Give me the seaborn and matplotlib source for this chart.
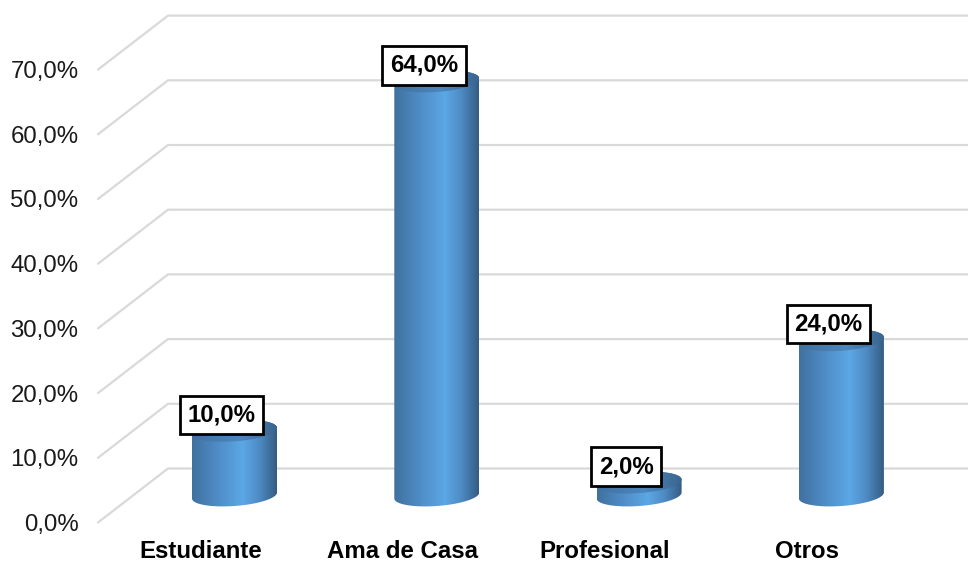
import numpy as np
import pandas as pd
import seaborn as sns
import matplotlib
matplotlib.use("Agg")
import matplotlib.pyplot as plt
from matplotlib.colors import LinearSegmentedColormap
from matplotlib.patches import Polygon

categories = ["Estudiante", "Ama de Casa", "Profesional", "Otros"]
values = [10.0, 64.0, 2.0, 24.0]
value_labels = ["10,0%", "64,0%", "2,0%", "24,0%"]
y_ticks = [0, 10, 20, 30, 40, 50, 60, 70]
y_tick_labels = ["0,0%", "10,0%", "20,0%", "30,0%", "40,0%", "50,0%", "60,0%", "70,0%"]

sns.set_theme(style="white")
plt.rcParams["font.family"] = ["Liberation Sans", "DejaVu Sans"]

# layout in pixels of the 968x561 image
W, H = 968, 561
left, bottom_px = 98, 530
first_bar_x, bar_step = 234.5, 202.3
base_y, px_per_unit = 495.5, 6.47
bar_px = 85
ell_b, ell_tilt = 10.5, 3.0
depth_x, depth_y = 70, 27  # wall and front plane, seen from the bars

df = pd.DataFrame({"category": categories, "value": values})

fig = plt.figure(figsize=(W / 100, H / 100), dpi=100)
ax = fig.add_axes([left / W, (H - bottom_px) / H, (W - left) / W, bottom_px / H])

sns.barplot(data=df, x="category", y="value", width=bar_px / bar_step,
            color="#4f8fcb", saturation=1, ax=ax, zorder=3)

ax.set_xlim((left - first_bar_x) / bar_step, (W - first_bar_x) / bar_step)
ylim = ((base_y - bottom_px) / px_per_unit, base_y / px_per_unit)
ax.set_ylim(ylim)
sns.despine(ax=ax, left=True, bottom=True)

# 3D floor and wall lines
dy = depth_y / px_per_unit
x_front = (left - first_bar_x) / bar_step
x_back = (left + depth_x - first_bar_x) / bar_step
x_end = (W - first_bar_x) / bar_step
for t in y_ticks:
    ax.plot([x_front, x_back, x_end], [t - dy, t + dy, t + dy], color="#d9d9d9",
            lw=1.6, zorder=1, clip_on=False)

body_cmap = LinearSegmentedColormap.from_list(
    "body", [(0, "#40719f"), (0.3, "#4f8cc6"), (0.6, "#5ca7e6"), (0.8, "#4d8ac3"), (1, "#355c82")])
top_cmap = LinearSegmentedColormap.from_list(
    "top", [(0, "#3f719f"), (0.55, "#4d86bd"), (1, "#3a668f")])
gradient = np.linspace(0, 1, 256).reshape(1, -1)


def ellipse_points(cx, cy, t):
    a = bar_px / 2 / bar_step
    b = ell_b / px_per_unit
    tilt = ell_tilt / px_per_unit
    return np.column_stack([cx + a * np.cos(t), cy + b * np.sin(t) + tilt * np.cos(t)])


# turn each seaborn bar into a shaded cylinder
for bar, label in zip(ax.patches, value_labels):
    cx = bar.get_x() + bar.get_width() / 2
    top = bar.get_height()
    lower = ellipse_points(cx, 0, np.linspace(np.pi, 2 * np.pi, 80))
    upper = ellipse_points(cx, top, np.linspace(0, np.pi, 80))
    body = Polygon(np.vstack([lower, upper]), closed=True, fc="none", ec="none")
    ax.add_patch(body)
    extent = [cx - bar.get_width() / 2, cx + bar.get_width() / 2, -3, top + 3]
    im = ax.imshow(gradient, cmap=body_cmap, extent=extent, aspect="auto", zorder=4)
    im.set_clip_path(body)

    cap = Polygon(ellipse_points(cx, top, np.linspace(0, 2 * np.pi, 160)),
                  closed=True, fc="none", ec="none")
    ax.add_patch(cap)
    im = ax.imshow(gradient, cmap=top_cmap, extent=extent, aspect="auto", zorder=5)
    im.set_clip_path(cap)

    ax.annotate(label, (cx, top), xytext=(-13 * 0.72, 16 * 0.72), textcoords="offset points",
                ha="center", va="center", fontsize=17.3, fontweight="bold", color="black",
                zorder=6, bbox=dict(boxstyle="square,pad=0.32", fc="white", ec="black", lw=2.0))
    bar.set_visible(False)

ax.set_xlim((left - first_bar_x) / bar_step, (W - first_bar_x) / bar_step)
ax.set_ylim(ylim)

ax.set_xticks([i - 34 / bar_step for i in range(len(categories))])
ax.set_xticklabels(categories, fontsize=17.3, fontweight="bold", color="black")
ax.set_yticks([t - dy for t in y_ticks])
ax.set_yticklabels(y_tick_labels, fontsize=17.3, color="#1a1a1a")
ax.tick_params(axis="x", length=0, pad=7)
ax.tick_params(axis="y", length=0, pad=14)
ax.set_xlabel("")
ax.set_ylabel("")
ax.grid(False)

fig.savefig("out.png", dpi=100)
